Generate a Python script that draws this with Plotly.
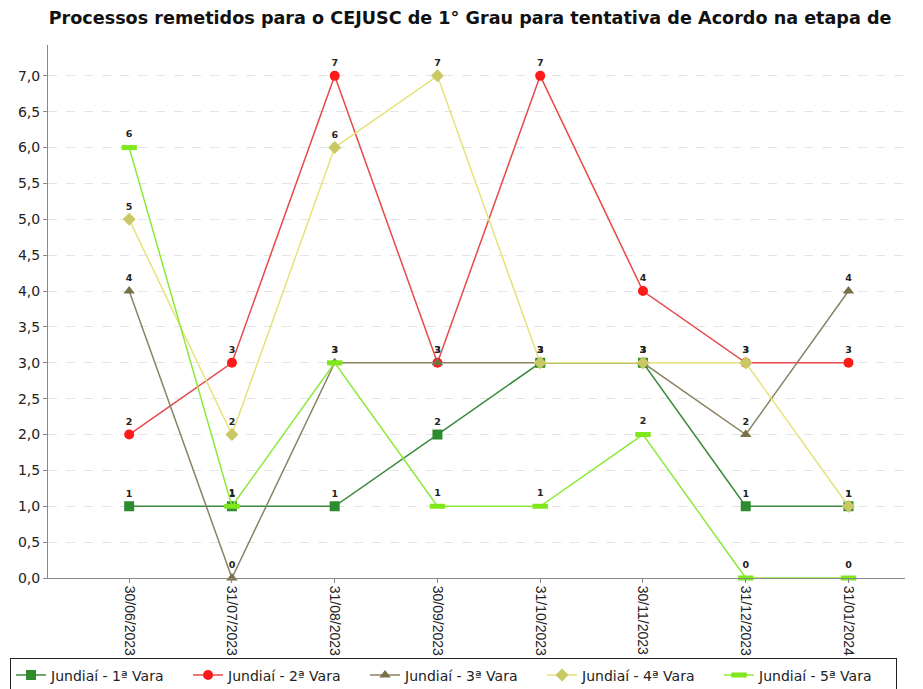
import plotly.graph_objects as go

categories = ["30/06/2023", "31/07/2023", "31/08/2023", "30/09/2023",
              "31/10/2023", "30/11/2023", "31/12/2023", "31/01/2024"]
series_names = ["Jundiaí - 1ª Vara", "Jundiaí - 2ª Vara", "Jundiaí - 3ª Vara",
                "Jundiaí - 4ª Vara", "Jundiaí - 5ª Vara"]
vara1 = [1, 1, 1, 2, 3, 3, 1, 1]
vara2 = [2, 3, 7, 3, 7, 4, 3, 3]
vara3 = [4, 0, 3, 3, 3, 3, 2, 4]
vara4 = [5, 2, 6, 7, 3, 3, 3, 1]
vara5 = [6, 1, 3, 1, 1, 2, 0, 0]
y_ticks = [i * 0.5 for i in range(15)]

series = [vara1, vara2, vara3, vara4, vara5]
line_colors = ["#3a8a3a", "#e84848", "#8a8262", "#e6e27a", "#8ee83a"]
marker_colors = ["#2e8b2e", "#ff1a1a", "#7a7048", "#c8c864", "#7fe81a"]
symbols = ["square", "circle", "triangle-up", "diamond", "line-ew"]

fig = go.Figure()
for name, vals, lc, mc, sym in zip(series_names, series, line_colors, marker_colors, symbols):
    marker = dict(symbol=sym, size=10, color=mc)
    if sym == "line-ew":
        marker = dict(symbol=sym, size=11, color=mc, line=dict(color=mc, width=5))
    fig.add_trace(go.Scatter(
        x=categories, y=vals, name=name,
        mode="lines+markers+text",
        line=dict(color=lc, width=1.5),
        marker=marker,
        text=[f"<b>{v}</b>" for v in vals],
        textposition="top center",
        textfont=dict(family="DejaVu Sans", size=9.5, color="#222222"),
        cliponaxis=False,
    ))

fig.update_layout(
    width=915, height=681,
    paper_bgcolor="white", plot_bgcolor="white",
    separators=",.",
    margin=dict(l=40, r=18, t=37, b=111, autoexpand=False),
    title=dict(text="Processos remetidos para o CEJUSC de 1° Grau para tentativa de Acordo na etapa de",
               x=0.505, xanchor="center", y=0.986, yanchor="middle",
               font=dict(family="DejaVu Sans", size=17.6, color="#111111", weight="bold")),
    font=dict(family="DejaVu Sans", size=11, color="#222222"),
    showlegend=True,
    legend=dict(orientation="h", x=-0.0443, xanchor="left", y=-0.151, yanchor="top",
                bordercolor="#222222", borderwidth=1,
                entrywidth=132, entrywidthmode="pixels",
                font=dict(family="DejaVu Sans", size=14, color="#222222"),
                traceorder="normal"),
)
fig.update_xaxes(
    type="category", range=[-0.79, 7.55], automargin=False,
    tickangle=90, ticks="outside", ticklen=4, tickcolor="#888888",
    showline=True, linecolor="#888888", linewidth=1,
    showgrid=False, tickfont=dict(family="Liberation Sans", size=14, color="#222222"),
)
fig.update_yaxes(
    range=[0, 7.43], tickvals=y_ticks, tickformat=".1f", automargin=False,
    ticks="outside", ticklen=4, tickcolor="#888888",
    showline=True, linecolor="#888888", linewidth=1,
    showgrid=True, gridcolor="#e4e4e4", griddash="dash", gridwidth=1,
    zeroline=False, tickfont=dict(family="DejaVu Sans", size=14, color="#222222"),
)

fig.write_html("out.html")
